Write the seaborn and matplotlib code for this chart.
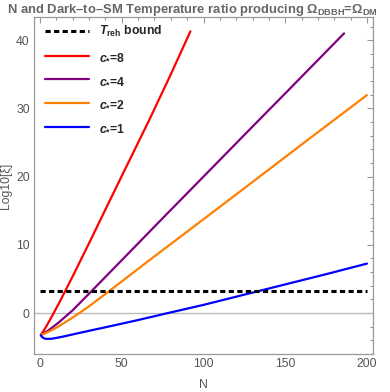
import numpy as np
import pandas as pd
import matplotlib
matplotlib.use("Agg")
import matplotlib.pyplot as plt
import seaborn as sns
from matplotlib.ticker import MultipleLocator
from matplotlib.lines import Line2D

# ---- data ----
N_red = [0.5, 2, 4, 8, 12, 20, 30, 37, 50, 67, 80, 92]
y_red = [-3.2, -2.68, -1.88, -0.16, 1.64, 5.4, 10.25, 13.7, 20.1, 28.4, 35.0, 41.3]

N_purple = [0.5, 2, 4, 8, 12, 20, 30, 50, 75, 100, 128, 150, 186]
y_purple = [-3.2, -3.02, -2.72, -2.02, -1.26, 0.42, 2.85, 7.75, 13.9, 20.0, 26.85, 32.2, 41.0]

N_orange = [0.5, 2, 4, 8, 12, 20, 30, 45, 67, 100, 128, 160, 200]
y_orange = [-3.2, -3.08, -2.88, -2.4, -1.86, -0.66, 0.99, 3.72, 7.77, 13.75, 18.85, 24.7, 31.95]

N_blue = [0.5, 1, 2, 3, 4.5, 7, 10, 15, 20, 30, 45, 60, 80, 100, 125, 150, 175, 200]
y_blue = [-3.25, -3.45, -3.65, -3.74, -3.79, -3.76, -3.64, -3.4, -3.13, -2.6, -1.82, -1.02,
          0.1, 1.2, 2.7, 4.2, 5.7, 7.25]

N_treh = [0, 200]
y_treh = [3.2, 3.2]

labels = [r"$T_{\rm reh}$ bound", r"$c_{*}$=8", r"$c_{*}$=4", r"$c_{*}$=2", r"$c_{*}$=1"]
colors = ["black", "#FF0000", "#800080", "#FF8000", "#0000FF"]

title = r"N and Dark–to–SM Temperature ratio producing $\Omega_{\rm DBBH}$=$\Omega_{\rm DM}$"
xlabel = "N"
ylabel = "Log10[ξ]"

# ---- long-form table ----
series = [(labels[1], N_red, y_red), (labels[2], N_purple, y_purple),
          (labels[3], N_orange, y_orange), (labels[4], N_blue, y_blue)]
rows = []
for name, xs, ys in series:
    for x, y in zip(xs, ys):
        rows.append({"N": x, "y": y, "series": name})
df = pd.DataFrame(rows)
df_t = pd.DataFrame({"N": N_treh, "y": y_treh, "series": labels[0]})

sns.set_theme(style="white")
plt.rcParams["font.family"] = ["Liberation Sans", "DejaVu Sans"]
plt.rcParams["mathtext.fontset"] = "custom"
plt.rcParams["mathtext.rm"] = "Liberation Sans:bold"
plt.rcParams["mathtext.bf"] = "Liberation Sans:bold"
plt.rcParams["mathtext.it"] = "Liberation Sans:bold:italic"
plt.rcParams["mathtext.default"] = "it"

fig = plt.figure(figsize=(3.90, 3.92), dpi=100)
ax = fig.add_axes([34 / 390, 1 - 354 / 392, (373 - 34) / 390, (354 - 17) / 392])

ax.axhline(0, color="#BBBBBB", lw=1.0, zorder=1)

dash = (0, (1.7, 1.1))
sns.lineplot(data=df_t, x="N", y="y", color="black", lw=2.2, ax=ax,
             linestyle=dash, legend=False, zorder=3)
palette = dict(zip(labels[1:], colors[1:]))
sns.lineplot(data=df, x="N", y="y", hue="series", palette=palette, sort=False,
             estimator=None, lw=1.6, ax=ax, legend=False, zorder=2)

ax.set_xlim(-3.7, 203.7)
ax.set_ylim(-6.0, 43.4)

ax.xaxis.set_major_locator(MultipleLocator(50))
ax.xaxis.set_minor_locator(MultipleLocator(10))
ax.yaxis.set_major_locator(MultipleLocator(10))
ax.yaxis.set_minor_locator(MultipleLocator(2))
ax.tick_params(which="both", direction="in", top=True, right=True,
               color="#999999", width=0.8, labelsize=8.8, labelcolor="#555555", pad=3)
ax.tick_params(which="major", length=4)
ax.tick_params(which="minor", length=2.2)
for s in ax.spines.values():
    s.set_color("#999999")
    s.set_linewidth(0.9)

ax.set_xlabel(xlabel, fontsize=8.8, color="#555555", labelpad=6)
ax.set_ylabel(ylabel, fontsize=8.8, color="#555555", labelpad=3)

fig.text(7 / 390, 1 - 10 / 392, title, fontsize=9.4, fontweight="bold",
         color="#666666", ha="left", va="center")

handles = [Line2D([], [], color="black", lw=2.2, linestyle=dash)]
for c in colors[1:]:
    handles.append(Line2D([], [], color=c, lw=1.6))
leg = ax.legend(handles, labels, loc="upper left", bbox_to_anchor=(0.01, 1.0),
                frameon=False, fontsize=8.8, handlelength=3.6, handletextpad=0.8,
                labelspacing=0.95, borderaxespad=0.4, borderpad=0.2)
for t in leg.get_texts():
    t.set_fontweight("bold")

fig.savefig("out.png", dpi=100)
